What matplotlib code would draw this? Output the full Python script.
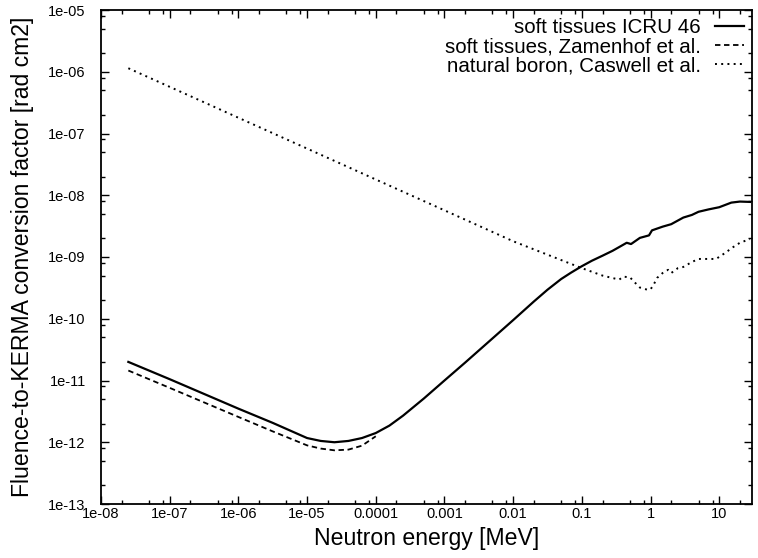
import matplotlib
matplotlib.use("Agg")
import matplotlib.pyplot as plt
from matplotlib.ticker import LogLocator, FixedLocator, FixedFormatter, NullFormatter

plt.rcParams['font.family'] = ['Liberation Sans', 'DejaVu Sans']

# ICRU 46 soft tissue
icru_E = [2.5e-8, 1e-7, 1e-6, 3.16e-6, 1e-5, 1.58e-5, 2.5e-5, 4e-5, 6.3e-5, 1e-4,
          1.58e-4, 2.5e-4, 5e-4, 1e-3, 2e-3, 5e-3, 1e-2, 2e-2, 3.16e-2, 5e-2, 7e-2,
          0.1, 0.14, 0.2, 0.28, 0.35, 0.45, 0.52, 0.7, 0.95, 1.05, 1.5,
          2.0, 3.0, 4.0, 5.0, 7.0, 10.0, 15.0, 20.0, 28.0]
icru_K = [2.0e-11, 1.05e-11, 3.5e-12, 2.06e-12, 1.17e-12, 1.05e-12, 1.0e-12, 1.05e-12,
          1.17e-12, 1.41e-12, 1.86e-12, 2.7e-12, 5.1e-12, 1.0e-11, 1.95e-11, 4.8e-11,
          9.5e-11, 1.9e-10, 2.95e-10, 4.4e-10, 5.6e-10, 7.1e-10, 8.7e-10, 1.05e-9,
          1.26e-9, 1.45e-9, 1.7e-9, 1.62e-9, 2.04e-9, 2.24e-9, 2.7e-9, 3.1e-9,
          3.4e-9, 4.35e-9, 4.8e-9, 5.4e-9, 5.9e-9, 6.4e-9, 7.6e-9, 7.9e-9, 7.8e-9]

# Zamenhof et al. soft tissue
zam_E = [2.5e-8, 1e-7, 1e-6, 3.16e-6, 1e-5, 1.58e-5, 2.5e-5, 4e-5, 6.3e-5, 1e-4]
zam_K = [1.45e-11, 7.6e-12, 2.57e-12, 1.5e-12, 8.9e-13, 7.9e-13, 7.4e-13, 7.6e-13,
         8.8e-13, 1.25e-12]

# Natural boron, Caswell et al.
bor_E = [2.5e-8, 1e-7, 1e-6, 1e-5, 1e-4, 1e-3, 1e-2, 0.1, 0.2, 0.35, 0.4, 0.5, 0.6,
         0.7, 0.9, 1.0, 1.1, 1.25, 1.5, 1.8, 2.0, 2.5, 3.0, 4.0, 5.0, 7.0, 9.0, 12.0,
         16.0, 20.0, 28.0]
bor_K = [1.14e-6, 5.7e-7, 1.8e-7, 5.7e-8, 1.8e-8, 5.7e-9, 1.8e-9, 6.6e-10, 5.0e-10,
         4.3e-10, 4.8e-10, 4.7e-10, 3.8e-10, 3.2e-10, 2.95e-10, 3.0e-10, 3.5e-10,
         4.6e-10, 5.5e-10, 6.2e-10, 5.5e-10, 6.6e-10, 6.9e-10, 8.3e-10, 9.3e-10,
         9.3e-10, 9.3e-10, 1.15e-9, 1.45e-9, 1.7e-9, 1.95e-9]

labels = ["soft tissues ICRU 46", "soft tissues, Zamenhof et al.",
          "natural boron, Caswell et al."]

x_ticks = [1e-8, 1e-7, 1e-6, 1e-5, 1e-4, 1e-3, 1e-2, 0.1, 1, 10]
x_ticklabels = ["1e-08", "1e-07", "1e-06", "1e-05", "0.0001", "0.001", "0.01",
                "0.1", "1", "10"]
y_ticks = [1e-13, 1e-12, 1e-11, 1e-10, 1e-9, 1e-8, 1e-7, 1e-6, 1e-5]
y_ticklabels = ["1e-13", "1e-12", "1e-11", "1e-10", "1e-09", "1e-08", "1e-07",
                "1e-06", "1e-05"]

fig = plt.figure(figsize=(7.58, 5.58), dpi=100)
ax = fig.add_axes([101/758, 1-504/558, 651/758, 494/558])

ax.plot(icru_E, icru_K, color='black', lw=1.6, ls='-', label=labels[0])
ax.plot(zam_E, zam_K, color='black', lw=1.3, ls=(0, (3, 2)), label=labels[1])
ax.plot(bor_E, bor_K, color='black', lw=1.4, ls=(0, (1, 2.2)), label=labels[2])

ax.set_xscale('log')
ax.set_yscale('log')
ax.set_xlim(1e-8, 30)
ax.set_ylim(1e-13, 1e-5)

ax.xaxis.set_major_locator(FixedLocator(x_ticks))
ax.xaxis.set_major_formatter(FixedFormatter(x_ticklabels))
ax.yaxis.set_major_locator(FixedLocator(y_ticks))
ax.yaxis.set_major_formatter(FixedFormatter(y_ticklabels))
ax.xaxis.set_minor_locator(LogLocator(base=10, subs=(2, 5, 8), numticks=30))
ax.yaxis.set_minor_locator(LogLocator(base=10, subs=(2, 5, 8), numticks=30))
ax.xaxis.set_minor_formatter(NullFormatter())
ax.yaxis.set_minor_formatter(NullFormatter())

ax.tick_params(which='both', direction='in', top=True, right=True, width=1.0)
ax.tick_params(which='major', length=6)
ax.tick_params(which='minor', length=3)
ax.tick_params(axis='x', which='major', labelsize=10.5, pad=2.5)
ax.tick_params(axis='y', which='major', labelsize=10.5, pad=11)
for s in ax.spines.values():
    s.set_linewidth(1.3)

ax.set_xlabel("Neutron energy [MeV]", fontsize=16.6, labelpad=4)
ax.set_ylabel("Fluence-to-KERMA conversion factor [rad cm2]", fontsize=16.6, labelpad=10)

leg = ax.legend(loc='upper right', frameon=False, markerfirst=False, fontsize=14.8,
                handlelength=1.4, handletextpad=0.7, labelspacing=0.0,
                borderaxespad=0.2, borderpad=0.2)

fig.savefig("out.png", dpi=100)
